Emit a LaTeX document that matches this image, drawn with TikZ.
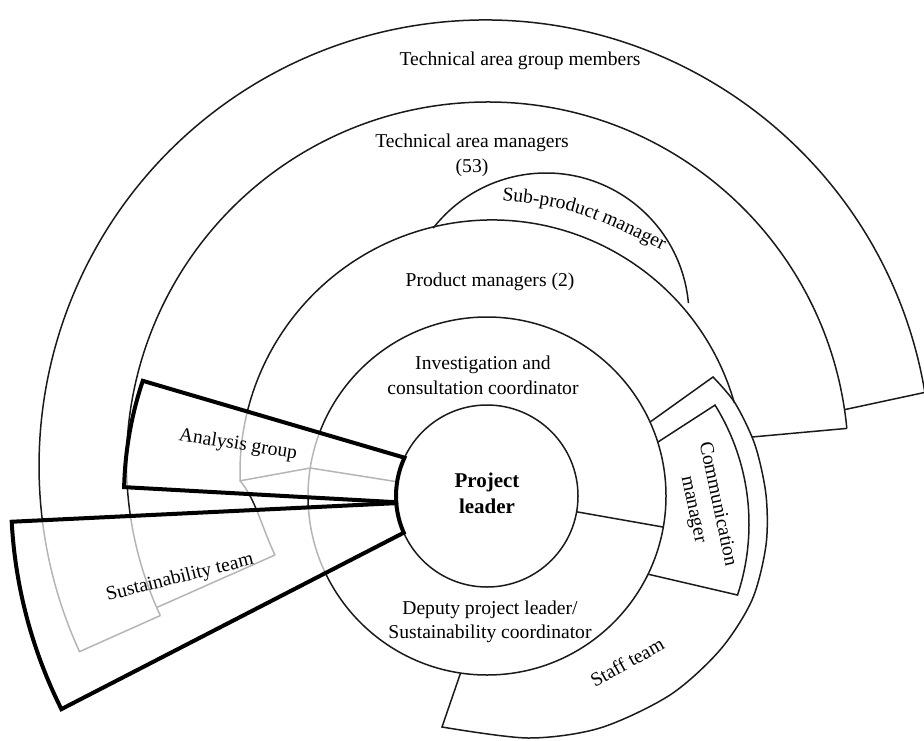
\documentclass[tikz,border=0pt]{standalone}
\usepackage{fontspec}
\setmainfont{Liberation Serif}
\usepackage{tikz}
\usetikzlibrary{calc,decorations.text}
\definecolor{fline}{HTML}{1A1A1A}
\tikzset{
  ring/.style  = {draw=fline, line width=0.75pt},
  unit/.style  = {draw=black, line width=2pt, fill=white, fill opacity=0.68},
  lbl/.style   = {font=\fontsize{9.8}{12.3}\selectfont, align=center, inner sep=0pt},
}

\begin{document}
\begin{tikzpicture}[x=0.5pt,y=0.5pt]
\useasboundingbox (0,0) rectangle (924,740);
% centres of the arcs
\coordinate (pl) at (487,244);
\coordinate (pm) at (492,268);
\coordinate (tm) at (487.5,277);
\coordinate (tg) at (485,274);
\coordinate (sp) at (546,424);
\coordinate (cm) at (524,216);
\coordinate (stc) at (713,363);
\coordinate (tme) at (752,303);
\coordinate (tmi) at (275,185);

% outer rings
\draw[ring] ($(tg)+(9.5:446)$) arc[start angle=9.5, end angle=204.6, radius=446] -- ($(tm)+(205:361)$);
\draw[ring] ($(tg)+(9.5:446)$) -- ($(tm)+(8.5:361)$);
\draw[ring] ($(tm)+(5.5:361)$) arc[start angle=5.5, end angle=205, radius=361];
\draw[ring] ($(tm)+(5.5:361)$) -- (tme);
\draw[ring] ($(tm)+(203.6:361)$) -- (tmi);
\draw[ring] (tmi) .. controls (262,212) and (256,240) .. ($(pm)+(182:252)$);
\draw[ring] ($(pm)+(15.9:252)$) arc[start angle=15.9, end angle=182, radius=252] -- ($(pl)+(171:179)$);
\draw[ring] ($(sp)+(5.2:143)$) arc[start angle=5.2, end angle=142.1, radius=143];

% coordinator ring and project leader
\draw[ring] (pl) circle[radius=179];
\draw[ring] (pl) circle[radius=91];
\draw[ring] ($(pl)+(171:91)$) -- ($(pl)+(171:179)$);
\draw[ring] ($(pl)+(-10:91)$) -- ($(pl)+(-10:179)$);

% staff team and communication manager
\draw[ring] ($(pl)+(24.4:179)$) -- (stc) -- plot[smooth] coordinates {(713,363) (735,337) (755,295)
  (766,245) (766,195) (752,140) (720,90) (670,45) (600,12) (528,2) (442,13)} -- ($(pl)+(-98.5:179)$);
\draw[ring] ($(pl)+(17.5:179)$) -- ($(cm)+(31.9:225)$) arc[start angle=31.9, end angle=-18.4, radius=225]
  -- ($(pl)+(-25.9:179)$);

% analysis group and sustainability team
\draw[unit] ($(pl)+(155.1:91)$) -- ($(pl)+(161.5:363)$) arc[start angle=161.5, end angle=178.6, radius=363]
  -- ($(pl)+(183.9:91)$) arc[start angle=183.9, end angle=155.1, radius=91] -- cycle;
\draw[unit] ($(pl)+(184.5:91)$) -- ($(pl)+(183.1:476)$) arc[start angle=183.1, end angle=206.6, radius=476]
  -- ($(pl)+(203.8:91)$) arc[start angle=203.8, end angle=184.5, radius=91] -- cycle;

% labels
\node[lbl] (tgm) at (520,679) {Technical area group members};
\node[lbl] (tam) at (472,585) {Technical area managers\\(53)};
\node[lbl] (pmg) at (490,458) {Product managers (2)};
\node[lbl] (icc) at (483,365) {Investigation and\\consultation coordinator};
\node[lbl,font=\fontsize{10.5}{13}\selectfont\bfseries] (pld) at (487,247) {Project\\leader};
\node[lbl] (dpl) at (490,118) {Deputy project leader/\\Sustainability coordinator};
\node[lbl,rotate=29] (stf) at (627,78) {Staff team};
\node[lbl,rotate=-78] (com) at (705,233) {Communication\\manager};
\node[lbl,rotate=-9] (ana) at (238,295) {Analysis group};
\node[lbl,rotate=14] (sus) at (180,162) {Sustainability team};
\path[decorate,decoration={text along path,text align=center,
  text={|\fontsize{9.8}{12}\selectfont|Sub-product manager}}] (486,541) .. controls (575,532) .. (677,483);
\end{tikzpicture}
\end{document}
